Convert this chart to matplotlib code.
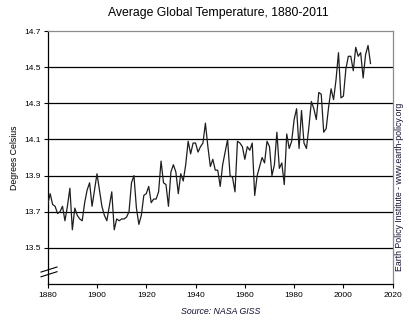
import numpy as np
import matplotlib
matplotlib.use("Agg")
import matplotlib.pyplot as plt
import matplotlib.transforms as mtransforms

# ============================================
# DATA
# ============================================

START_YEAR = 1880

temps = [
    13.74, 13.80, 13.74, 13.73, 13.69, 13.70, 13.73, 13.65, 13.73, 13.83,  # 1880s
    13.60, 13.72, 13.68, 13.66, 13.65, 13.75, 13.82, 13.86, 13.73, 13.82,  # 1890s
    13.91, 13.82, 13.73, 13.68, 13.65, 13.73, 13.81, 13.60, 13.66, 13.65,  # 1900s
    13.66, 13.66, 13.67, 13.70, 13.86, 13.90, 13.72, 13.63, 13.68, 13.79,  # 1910s
    13.80, 13.84, 13.75, 13.77, 13.77, 13.81, 13.98, 13.86, 13.85, 13.73,  # 1920s
    13.92, 13.96, 13.92, 13.80, 13.91, 13.87, 13.96, 14.09, 14.02, 14.08,  # 1930s
    14.08, 14.03, 14.06, 14.08, 14.19, 14.06, 13.95, 13.99, 13.93, 13.93,  # 1940s
    13.84, 13.96, 14.03, 14.10, 13.90, 13.89, 13.81, 14.09, 14.08, 14.06,  # 1950s
    13.99, 14.06, 14.04, 14.08, 13.79, 13.90, 13.95, 14.00, 13.97, 14.09,  # 1960s
    14.06, 13.90, 13.96, 14.14, 13.94, 13.97, 13.85, 14.13, 14.05, 14.09,  # 1970s
    14.21, 14.27, 14.05, 14.26, 14.08, 14.05, 14.17, 14.31, 14.27, 14.21,  # 1980s
    14.36, 14.35, 14.14, 14.16, 14.28, 14.38, 14.32, 14.43, 14.58, 14.33,  # 1990s
    14.34, 14.49, 14.56, 14.56, 14.48, 14.61, 14.56, 14.58, 14.44, 14.57,  # 2000s
    14.62, 14.52,                                                          # 2010s
]
years = np.arange(START_YEAR, START_YEAR + len(temps))

y_ticks = [13.5, 13.7, 13.9, 14.1, 14.3, 14.5, 14.7]
x_ticks = [1880, 1900, 1920, 1940, 1960, 1980, 2000, 2020]

# ============================================
# FIGURE
# ============================================

plt.rcParams["font.family"] = ["Liberation Sans", "DejaVu Sans"]

fig = plt.figure(figsize=(4.10, 3.29), dpi=100)
ax = fig.add_axes([47.7 / 410, 1 - 284 / 329, 345 / 410, 253 / 329])

# horizontal grid lines (black), drawn under the data
for yv in y_ticks[:-1]:
    ax.axhline(yv, color="black", lw=0.9, zorder=1)

ax.plot(years, temps, color="#1e1e1e", lw=0.9, zorder=3)

ax.set_xlim(1880, 2020)
ax.set_ylim(13.3, 14.7)
ax.set_xticks(x_ticks)
ax.set_yticks(y_ticks)
ax.set_yticklabels([f"{v:.1f}" for v in y_ticks])

ax.tick_params(axis="both", direction="out", length=3, width=0.8,
               labelsize=6, colors="black")
ax.tick_params(axis="y", pad=2)
ax.tick_params(axis="x", pad=2.5)

for side in ["left", "bottom"]:
    ax.spines[side].set_color("black")
    ax.spines[side].set_linewidth(0.9)
for side in ["top", "right"]:
    ax.spines[side].set_color("#8c8c8c")
    ax.spines[side].set_linewidth(0.9)

# axis break marks on the left spine
trans = mtransforms.blended_transform_factory(ax.transAxes, ax.transData)
bx = [-6.7 / 345, 9.3 / 345]
ax.plot(bx, [13.366, 13.394], color="black", lw=0.8, transform=trans, clip_on=False)
ax.plot(bx, [13.340, 13.368], color="black", lw=0.8, transform=trans, clip_on=False)

# ============================================
# TEXT
# ============================================

fig.text(218.5 / 410, 1 - 13 / 329, "Average Global Temperature, 1880-2011",
         ha="center", va="center", fontsize=8.8)
fig.text(15 / 410, 1 - 157.5 / 329, "Degrees Celsius", rotation=90,
         ha="center", va="center", fontsize=6.3)
fig.text(400 / 410, 1 - 187 / 329, "Earth Policy Institute - www.earth-policy.org",
         rotation=90, ha="center", va="center", fontsize=6.3, color="#101030")
fig.text(221 / 410, 1 - 311.5 / 329, "Source: NASA GISS", style="italic",
         ha="center", va="center", fontsize=6.3, color="#101030")

fig.savefig("out.png", dpi=100)
